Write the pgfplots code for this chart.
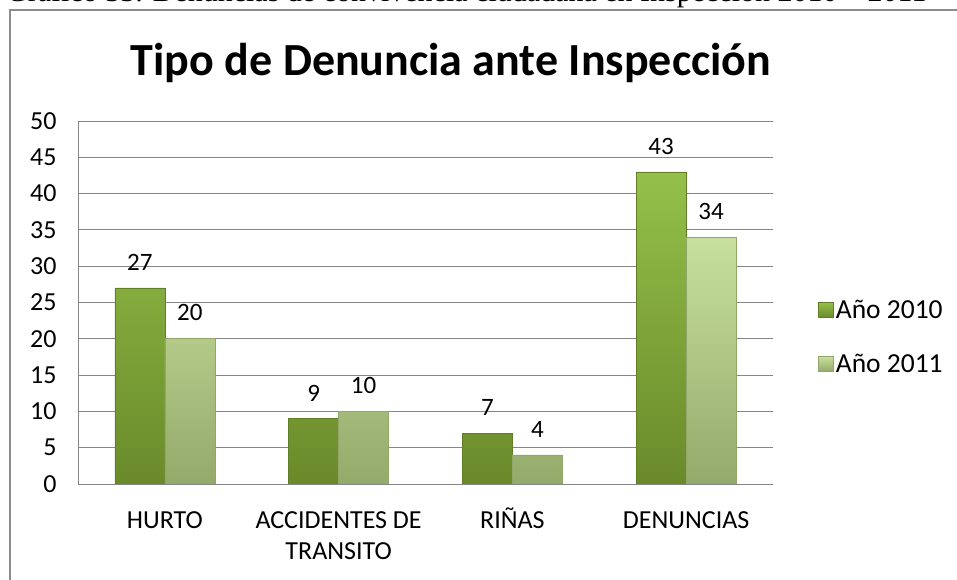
\documentclass[border=0pt]{standalone}
\usepackage{pgfplots}
\pgfplotsset{compat=1.18}
\usepackage{fontspec}
\setmainfont{Carlito}
\newfontfamily\serifcap{Liberation Serif}
\definecolor{gonetop}{RGB}{148,192,74}
\definecolor{gonebot}{RGB}{106,138,42}
\definecolor{goneedge}{RGB}{96,126,38}
\definecolor{gtwotop}{RGB}{200,224,158}
\definecolor{gtwobot}{RGB}{148,170,106}
\definecolor{gtwoedge}{RGB}{146,166,106}
\definecolor{gridc}{RGB}{134,134,134}
\definecolor{framec}{RGB}{140,140,140}
\begin{document}
\begin{tikzpicture}[x=1pt,y=1pt]
\useasboundingbox (0,0) rectangle (957,580);
\fill[white] (0,0) rectangle (957,580);
\begin{scope}
\clip (0,562) rectangle (957,580);
\node[anchor=base west, inner sep=0pt, font=\serifcap\fontsize{30}{34}\selectfont] at (6,578) {Gráfico 33. Denuncias de convivencia ciudadana en Inspección 2010 – 2011};
\end{scope}
\draw[framec, line width=1.6pt] (10,-2) -- (10,570) -- (960,570);
\node[font=\fontsize{46}{54}\selectfont\bfseries] at (451,517) {Tipo de Denuncia ante Inspección};
\begin{axis}[
  name=ax,
  at={(78pt,96pt)}, anchor=south west,
  scale only axis, width=695pt, height=363pt,
  xmin=-0.5, xmax=3.5, ymin=0, ymax=50,
  enlargelimits=false,
  ytick={0,5,...,50},
  xtick={0,1,2,3},
  xticklabels={\strut HURTO,{\strut ACCIDENTES DE\\TRANSITO},\strut RIÑAS,\strut DENUNCIAS},
  /pgf/number format/assume math mode=true,
  tick label style={font=\fontsize{26}{31}\selectfont},
  xticklabel style={align=center, yshift=-19pt},
  yticklabel style={xshift=-18pt},
  major tick length=0pt,
  ymajorgrids, grid style={gridc, line width=0.9pt},
  axis x line*=bottom, axis y line*=left,
  axis line style={gridc, line width=0.9pt, -},
  ybar=0pt, bar width=50pt,
  nodes near coords,
  nodes near coords style={font=\fontsize{25}{30}\selectfont, yshift=14pt},
  legend style={at={(rel axis cs:1.0648,0.405)}, anchor=west, draw=none, fill=none,
    inner sep=0pt, font=\fontsize{27.5}{32}\selectfont, row sep=30pt},
  legend cell align=left,
  legend image code/.code={\fill[#1] (0pt,-7.5pt) rectangle (15pt,7.5pt);},
]
\addplot[draw=goneedge, line width=0.6pt, top color=gonetop, bottom color=gonebot]
  coordinates {(0,27) (1,9) (2,7) (3,43)};
\addplot[draw=gtwoedge, line width=0.6pt, top color=gtwotop, bottom color=gtwobot]
  coordinates {(0,20) (1,10) (2,4) (3,34)};
\legend{Año 2010, Año 2011}
\end{axis}
\end{tikzpicture}
\end{document}
